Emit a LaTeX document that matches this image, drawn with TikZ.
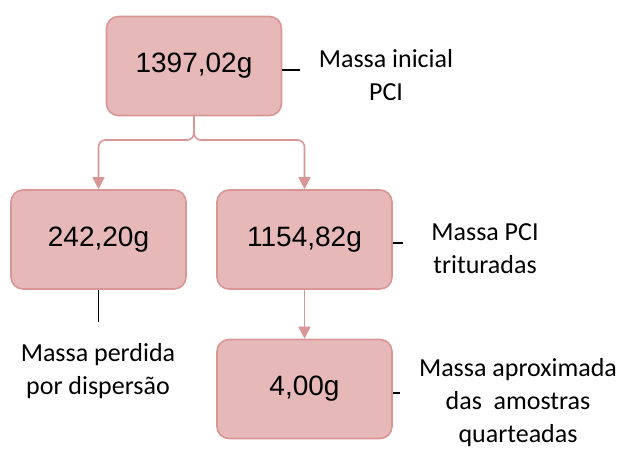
\documentclass[tikz,border=0pt]{standalone}
\usepackage{fontspec}
\setmainfont{Liberation Sans}
\newfontfamily\lblfont{Carlito}
\usetikzlibrary{arrows.meta}
\definecolor{boxfill}{HTML}{E6B8B7}
\definecolor{boxline}{HTML}{D99694}
\tikzset{
  massbox/.style={draw=boxline, fill=boxfill, line width=1.6pt, rounded corners=12pt,
    minimum width=175pt, minimum height=99pt, inner sep=0pt,
    font=\fontsize{28}{32}\selectfont},
  conn/.style={draw=boxline, line width=1.6pt, -{Triangle[length=12pt,width=12pt]}},
  lbl/.style={align=center, font=\lblfont\fontsize{26}{33}\selectfont, inner sep=0pt},
  tick/.style={draw=black, line width=1.1pt}
}
\begin{document}
\begin{tikzpicture}[x=1pt,y=1pt]
\useasboundingbox (0,0) rectangle (627,449);
\node[massbox] (top) at (194,383) {1397,02g};
\node[massbox] (left) at (98.5,209.5) {242,20g};
\node[massbox] (mid) at (304.5,209.5) {1154,82g};
\node[massbox] (bot) at (304.5,60) {4,00g};
\coordinate (br) at (194,309);
\draw[conn, rounded corners=7pt] (top.south) -- (br) -| (left.north);
\draw[conn, rounded corners=7pt] (top.south) -- (br) -| (mid.north);
\draw[conn] (mid.south) -- (bot.north);
\node[lbl] (ltop) at (386,374) {Massa inicial\\PCI};
\node[lbl] (lmid) at (485,200) {Massa PCI\\trituradas};
\node[lbl] (lbot) at (518,46) {Massa aproximada\\das\ \ amostras\\quarteadas};
\node[lbl] (lleft) at (98,78) {Massa perdida\\por dispersão};
\coordinate (t1) at (300,379);
\coordinate (t2) at (403,206);
\coordinate (t3) at (400,56);
\coordinate (t4) at (98.5,127);
\draw[tick] (top.east |- t1) -- (t1);
\draw[tick] (mid.east |- t2) -- (t2);
\draw[tick] (bot.east |- t3) -- (t3);
\draw[tick] (left.south) -- (t4);
\end{tikzpicture}
\end{document}
